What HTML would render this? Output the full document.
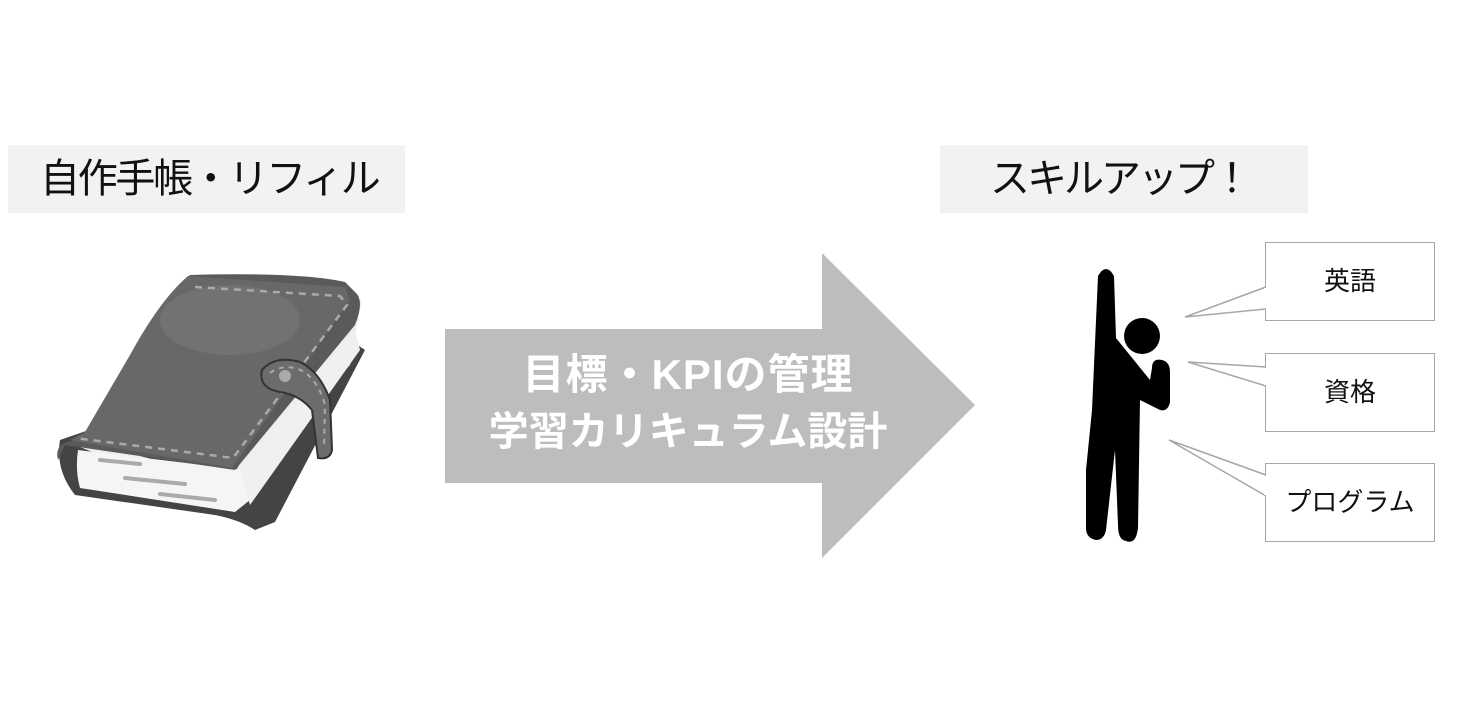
<!DOCTYPE html>
<html><head><meta charset="utf-8"><style>
body{margin:0;width:1484px;height:708px;background:#fff;position:relative;overflow:hidden;font-family:"Liberation Sans","Noto Sans CJK JP",sans-serif}
.lab{position:absolute;background:#f2f2f2;color:#111;font-size:40px;line-height:68px;height:68px;white-space:nowrap}
.box{position:absolute;border:1.5px solid #a6a6a6;background:#fff;font-size:26px;text-align:center;color:#111;width:168px;height:77px;line-height:77px;left:1265px}
.at{position:absolute;color:#fff;font-weight:bold;font-size:40px;left:445px;width:486px;text-align:center;line-height:56px;white-space:nowrap}
</style></head><body>
<div class="lab" style="left:8px;top:145px;width:397px;"><span style="margin-left:32px;letter-spacing:-2.3px">自作手帳・リフィル</span></div>
<div class="lab" style="left:940px;top:145px;width:368px;"><span style="margin-left:50px;letter-spacing:-3px">スキルアップ！</span></div>

<svg width="1484" height="708" style="position:absolute;left:0;top:0">
 <polygon points="445,329 822,329 822,253 975,405 822,558 822,483 445,483" fill="#bdbdbd"/>
 <path d="M60,440 Q55,470 75,495 L215,515 Q240,520 255,530 L275,522 L365,350 L350,340 Z" fill="#444"/>
 <path d="M75,445 L100,455 L245,475 L350,365 L362,300 L340,300 L230,480 L80,440 Z" fill="#eee"/>
 <path d="M78,450 Q75,470 80,488 L235,512 L250,500 L245,470 Z" fill="#f5f5f5"/>
 <path d="M240,470 L355,330 L360,350 L250,505 Z" fill="#f0f0f0"/>
 <path d="M90,440 Q52,438 58,460 L65,445 L235,470 L355,325 Q365,300 355,292 L345,282 Q300,272 190,275 Q160,300 130,360 Z" fill="#5a5a5a"/>
 <path d="M188,276 L345,287 L350,300 L232,468 L70,440 L85,432 L130,355 Q160,300 188,276 Z" fill="#686868"/>
 <ellipse cx="230" cy="320" rx="70" ry="35" fill="#7a7a7a" opacity="0.6"/>
 <path d="M195,287 L340,296 L347,305 L233,458 L75,438" fill="none" stroke="#aaa" stroke-width="2.5" stroke-dasharray="7,6"/>
 <path d="M262,370 Q275,355 300,362 Q320,372 330,400 L332,450 Q330,460 318,458 L312,410 Q300,395 280,392 Q258,388 262,370 Z" fill="#6c6c6c" stroke="#333" stroke-width="2"/>
 <path d="M270,373 Q285,362 305,372 Q320,385 325,405 L324,448" fill="none" stroke="#aaa" stroke-width="2" stroke-dasharray="5,5"/>
 <circle cx="285" cy="376" r="6" fill="#aaa"/>
 <g stroke="#aaa" stroke-width="4" stroke-linecap="round"><line x1="100" y1="460" x2="140" y2="464"/><line x1="125" y1="478" x2="185" y2="484"/><line x1="160" y1="494" x2="215" y2="500"/></g>
 <g fill="#000" stroke="none">
  <circle cx="1142" cy="336" r="18"/>
  <path d="M1098,276 Q1106,262 1114,276 L1116,338 L1150,380 L1152,368 Q1152,358 1162,360 Q1170,362 1170,372 L1170,402 Q1168,412 1160,410 L1140,400 L1138,528 Q1136,545 1126,541 Q1118,540 1118,525 L1115,450 L1106,530 Q1104,540 1096,540 Q1086,538 1086,528 L1086,470 L1092,410 Z"/>
 </g>
 <g fill="#fff" stroke="#a6a6a6" stroke-width="1.5">
  <polygon points="1266,287 1185,317 1266,309"/>
  <polygon points="1266,367 1188,362 1266,386"/>
  <polygon points="1266,475 1169,440 1266,496"/>
 </g>
</svg>
<div class="box" style="top:242px">英語</div>
<div class="box" style="top:353px">資格</div>
<div class="box" style="top:463px">プログラム</div>
<svg width="1484" height="708" style="position:absolute;left:0;top:0"><g fill="#fff" stroke="none">
 <rect x="1264" y="288" width="3" height="20"/><rect x="1264" y="368" width="3" height="17"/><rect x="1264" y="476" width="3" height="19"/></g></svg>
<div class="at" style="top:347px;font-size:42px;letter-spacing:1px">目標・KPIの管理</div>
<div class="at" style="top:404px">学習カリキュラム設計</div>
</body></html>
